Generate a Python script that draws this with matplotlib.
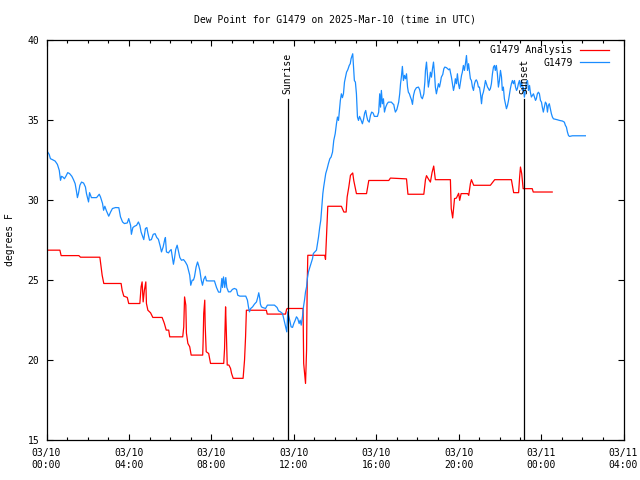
import numpy as np
import matplotlib
matplotlib.use("Agg")
import matplotlib.pyplot as plt

# hours since 03/10 00:00 UTC, dew point in F
obs_hours = [0.00, 0.06, 0.13, 0.19, 0.29, 0.42, 0.53, 0.62, 0.68, 0.73, 0.79, 0.87, 0.94, 1.03, 1.12,
             1.23, 1.31, 1.39, 1.46, 1.50, 1.55, 1.62, 1.70, 1.80, 1.89, 1.94, 2.04, 2.09, 2.18, 2.33,
             2.43, 2.56, 2.62, 2.72, 2.77, 2.83, 2.91, 3.02, 3.11, 3.20, 3.35, 3.51, 3.59, 3.69, 3.78,
             3.92, 3.99, 4.08, 4.12, 4.19, 4.27, 4.37, 4.46, 4.53, 4.59, 4.66, 4.72, 4.80, 4.87, 4.92,
             5.00, 5.09, 5.18, 5.27, 5.35, 5.43, 5.52, 5.58, 5.66, 5.73, 5.77, 5.82, 5.92, 5.98, 6.05,
             6.11, 6.16, 6.21, 6.27, 6.34, 6.40, 6.47, 6.55, 6.65, 6.74, 6.83, 6.89, 6.95, 7.00, 7.07,
             7.13, 7.18, 7.26, 7.33, 7.38, 7.44, 7.51, 7.57, 7.63, 7.71, 7.76, 7.86, 8.15, 8.25, 8.35,
             8.44, 8.51, 8.54, 8.59, 8.65, 8.70, 8.75, 8.83, 8.93, 9.02, 9.12, 9.22, 9.28, 9.38, 9.67,
             9.75, 9.80, 9.85, 9.91, 10.00, 10.09, 10.19, 10.25, 10.30, 10.35, 10.38, 10.43, 10.49, 10.63, 10.72,
             11.06, 11.19, 11.26, 11.35, 11.45, 11.51, 11.61, 11.66, 11.71, 11.76, 11.82, 11.87, 11.94, 12.00, 12.07,
             12.13, 12.19, 12.26, 12.31, 12.36, 12.42, 12.47, 12.52, 12.57, 12.62, 12.66, 12.71, 12.76, 12.81, 12.86,
             12.91, 12.95, 13.02, 13.10, 13.15, 13.20, 13.26, 13.31, 13.36, 13.41, 13.45, 13.50, 13.55, 13.62, 13.68,
             13.75, 13.81, 13.88, 13.94, 14.01, 14.07, 14.12, 14.17, 14.22, 14.26, 14.31, 14.36, 14.41, 14.46, 14.51,
             14.56, 14.62, 14.69, 14.74, 14.78, 14.83, 14.86, 14.90, 14.94, 14.99, 15.04, 15.09, 15.14, 15.19, 15.24,
             15.28, 15.33, 15.38, 15.44, 15.49, 15.54, 15.59, 15.66, 15.72, 15.78, 15.85, 15.91, 16.06, 16.12, 16.17,
             16.21, 16.25, 16.30, 16.35, 16.40, 16.46, 16.53, 16.59, 16.66, 16.74, 16.80, 16.85, 16.89, 16.93, 17.00,
             17.05, 17.09, 17.14, 17.18, 17.22, 17.27, 17.32, 17.37, 17.42, 17.47, 17.52, 17.56, 17.61, 17.66, 17.71,
             17.76, 17.81, 17.87, 17.95, 18.05, 18.11, 18.18, 18.24, 18.31, 18.36, 18.39, 18.44, 18.49, 18.53, 18.58,
             18.63, 18.68, 18.73, 18.78, 18.83, 18.87, 18.92, 18.97, 19.02, 19.07, 19.12, 19.16, 19.23, 19.28, 19.33,
             19.41, 19.47, 19.52, 19.57, 19.60, 19.65, 19.70, 19.75, 19.80, 19.84, 19.89, 19.94, 19.99, 20.04, 20.09,
             20.14, 20.18, 20.23, 20.28, 20.33, 20.38, 20.43, 20.48, 20.52, 20.57, 20.62, 20.67, 20.72, 20.77, 20.82,
             20.86, 20.91, 20.96, 21.01, 21.06, 21.11, 21.15, 21.20, 21.25, 21.30, 21.35, 21.40, 21.45, 21.49, 21.54,
             21.59, 21.64, 21.69, 21.74, 21.78, 21.83, 21.88, 21.93, 21.98, 22.03, 22.08, 22.12, 22.17, 22.22, 22.27,
             22.32, 22.37, 22.42, 22.47, 22.51, 22.56, 22.61, 22.66, 22.71, 22.76, 22.81, 22.85, 22.90, 22.95, 23.00,
             23.05, 23.10, 23.14, 23.19, 23.24, 23.29, 23.34, 23.39, 23.44, 23.48, 23.53, 23.58, 23.63, 23.68, 23.73,
             23.77, 23.82, 23.87, 23.92, 23.97, 24.02, 24.06, 24.11, 24.16, 24.21, 24.26, 24.31, 24.35, 24.40, 24.45,
             24.50, 24.55, 24.60, 24.79, 24.89, 25.04, 25.13, 25.18, 25.23, 25.28, 25.33, 25.38, 25.52, 26.15]
obs_dewpt = [33.08, 32.97, 32.83, 32.56, 32.50, 32.41, 32.20, 31.83, 31.21, 31.46, 31.42, 31.31, 31.46, 31.69, 31.63,
             31.46, 31.25, 31.00, 30.48, 30.13, 30.38, 30.90, 31.10, 31.04, 30.79, 30.38, 29.86, 30.44, 30.13, 30.13,
             30.13, 30.34, 30.17, 29.76, 29.34, 29.59, 29.30, 28.97, 29.23, 29.45, 29.51, 29.50, 28.93, 28.61, 28.51,
             28.55, 28.82, 28.40, 27.84, 28.26, 28.34, 28.40, 28.61, 28.40, 27.98, 27.72, 27.51, 28.20, 28.26, 27.92,
             27.47, 27.51, 27.84, 27.88, 27.64, 27.53, 27.09, 26.74, 27.05, 27.47, 27.64, 26.74, 26.68, 26.80, 26.89,
             26.39, 25.97, 26.33, 26.89, 27.16, 26.80, 26.39, 26.22, 26.26, 26.11, 25.90, 25.60, 25.29, 24.66, 24.98,
             24.98, 25.18, 25.80, 26.11, 25.90, 25.60, 24.98, 24.66, 25.02, 25.22, 24.94, 24.93, 24.93, 24.52, 24.23,
             24.23, 25.08, 24.52, 25.18, 24.52, 25.14, 24.52, 24.25, 24.25, 24.40, 24.46, 24.40, 24.04, 23.98, 23.98,
             23.73, 23.31, 23.00, 23.21, 23.31, 23.48, 23.62, 23.90, 24.19, 23.84, 23.48, 23.31, 23.27, 23.21, 23.42,
             23.42, 23.27, 23.06, 23.00, 22.90, 22.59, 22.03, 21.75, 23.00, 22.69, 22.38, 22.06, 22.03, 22.27, 22.48,
             22.69, 22.59, 22.27, 22.48, 22.17, 22.69, 23.31, 23.73, 24.25, 24.56, 25.08, 25.49, 25.70, 25.90, 26.11,
             26.33, 26.64, 26.74, 26.85, 27.26, 27.67, 28.30, 28.72, 29.55, 30.38, 30.79, 31.21, 31.63, 31.94, 32.25,
             32.56, 32.66, 32.97, 33.70, 34.12, 34.74, 35.16, 34.95, 35.68, 36.20, 36.61, 36.37, 36.61, 37.34, 37.65,
             37.96, 38.11, 38.38, 38.49, 38.80, 39.00, 39.11, 38.28, 37.44, 37.34, 36.61, 35.16, 34.95, 35.20, 35.05,
             34.91, 34.74, 34.99, 35.41, 35.57, 35.20, 34.95, 34.84, 35.26, 35.47, 35.41, 35.20, 35.20, 35.47, 36.61,
             35.78, 36.82, 35.99, 36.30, 35.47, 35.78, 35.99, 36.09, 36.09, 36.09, 35.99, 35.95, 35.68, 35.47, 35.62,
             35.88, 36.09, 36.61, 37.24, 37.65, 38.32, 37.44, 37.76, 37.55, 37.86, 37.03, 36.71, 36.61, 36.41, 36.24,
             35.95, 36.51, 36.82, 36.99, 37.03, 36.86, 36.41, 36.30, 36.61, 37.34, 38.07, 38.59, 37.76, 37.03, 37.44,
             37.96, 37.65, 38.17, 38.59, 37.86, 37.03, 36.61, 36.93, 37.24, 37.03, 37.34, 37.65, 37.82, 38.17, 38.28,
             38.24, 38.17, 38.11, 38.17, 37.96, 37.65, 37.24, 36.82, 37.13, 37.55, 37.24, 37.86, 37.24, 36.93, 37.34,
             37.76, 37.96, 38.38, 38.07, 38.49, 39.00, 38.07, 38.49, 38.07, 37.55, 37.44, 37.03, 36.82, 37.24, 37.44,
             37.48, 37.34, 37.03, 37.03, 36.61, 35.99, 36.51, 36.71, 37.03, 37.44, 37.24, 37.03, 36.93, 36.82, 36.93,
             37.24, 37.86, 38.28, 38.38, 38.07, 38.38, 37.86, 37.03, 37.44, 38.07, 37.65, 36.82, 37.03, 36.30, 35.99,
             35.68, 35.88, 36.20, 36.61, 36.93, 37.24, 37.44, 37.24, 37.44, 37.03, 36.82, 36.93, 37.24, 37.44, 37.03,
             37.44, 36.82, 37.03, 36.40, 36.82, 37.34, 37.44, 36.82, 37.13, 36.71, 36.41, 36.51, 36.61, 36.41, 36.20,
             36.30, 36.61, 36.71, 36.61, 36.20, 36.09, 35.78, 35.47, 35.78, 36.09, 35.99, 35.47, 35.88, 35.99, 35.68,
             35.37, 35.16, 35.05, 34.99, 34.95, 34.91, 34.84, 34.64, 34.53, 34.22, 34.01, 33.95, 33.99, 33.99]

ana_hours = [0.00, 0.65, 0.71, 1.57, 1.65, 2.59, 2.65, 2.70, 2.78, 3.62, 3.67, 3.75, 3.92, 3.99, 4.53,
             4.59, 4.64, 4.69, 4.75, 4.82, 4.85, 4.92, 5.05, 5.16, 5.61, 5.69, 5.72, 5.81, 5.93, 5.98,
             6.61, 6.66, 6.70, 6.76, 6.79, 6.86, 6.95, 7.02, 7.58, 7.60, 7.63, 7.68, 7.70, 7.75, 7.87,
             7.96, 8.60, 8.64, 8.69, 8.72, 8.77, 8.85, 8.93, 8.98, 9.06, 9.54, 9.61, 9.66, 9.70, 10.67,
             10.71, 11.60, 11.65, 11.68, 12.45, 12.48, 12.57, 12.62, 12.65, 12.68, 13.50, 13.54, 13.65, 14.31, 14.43,
             14.54, 14.59, 14.67, 14.75, 14.86, 14.91, 15.04, 15.53, 15.64, 16.61, 16.69, 17.47, 17.54, 18.31, 18.39,
             18.44, 18.53, 18.63, 18.71, 18.79, 18.87, 19.60, 19.64, 19.71, 19.80, 19.89, 20.00, 20.05, 20.12, 20.44,
             20.49, 20.57, 20.62, 20.73, 21.54, 21.75, 22.56, 22.67, 22.91, 22.96, 23.00, 23.06, 23.13, 23.57, 23.62,
             24.54]
ana_dewpt = [26.85, 26.85, 26.51, 26.51, 26.41, 26.41, 25.80, 25.29, 24.77, 24.77, 24.35, 23.98, 23.90, 23.52, 23.52,
             24.56, 24.87, 23.62, 24.35, 24.87, 23.52, 23.10, 22.94, 22.65, 22.65, 22.38, 22.27, 21.86, 21.86, 21.44,
             21.44, 22.06, 23.93, 23.42, 21.67, 21.03, 20.82, 20.30, 20.30, 21.13, 22.90, 23.73, 22.17, 20.51, 20.40,
             19.78, 19.78, 20.71, 23.31, 22.06, 19.68, 19.68, 19.47, 19.16, 18.85, 18.85, 19.99, 21.44, 23.10, 23.10,
             22.86, 22.86, 23.15, 23.21, 23.21, 19.78, 18.53, 20.60, 24.56, 26.53, 26.53, 26.28, 29.59, 29.59, 29.23,
             29.23, 30.17, 30.79, 31.52, 31.67, 31.20, 30.38, 30.38, 31.20, 31.20, 31.35, 31.30, 30.34, 30.34, 31.25,
             31.50, 31.30, 31.10, 31.70, 32.10, 31.25, 31.25, 29.45, 28.86, 30.07, 30.10, 30.40, 29.96, 30.38, 30.38,
             30.27, 31.00, 31.25, 30.90, 30.90, 31.25, 31.25, 30.44, 30.44, 31.42, 32.04, 31.63, 30.69, 30.69, 30.48,
             30.48]

sunrise = 11.70
sunset = 23.19
tick_hours = [0, 4, 8, 12, 16, 20, 24, 28]
tick_labels = ["03/10\n00:00", "03/10\n04:00", "03/10\n08:00", "03/10\n12:00",
               "03/10\n16:00", "03/10\n20:00", "03/11\n00:00", "03/11\n04:00"]

plt.rcParams['font.family'] = 'DejaVu Sans Mono'
plt.rcParams['font.size'] = 7

fig = plt.figure(figsize=(6.4, 4.8), dpi=100)
ax = fig.add_axes([46.5 / 640, 1 - 440 / 480, 577 / 640, 400.5 / 480])

ax.plot(ana_hours, ana_dewpt, color="#ff0000", lw=0.9, label="G1479 Analysis")
ax.plot(obs_hours, obs_dewpt, color="#1a8cff", lw=0.9, label="G1479")

for t, name in [(sunrise, "Sunrise"), (sunset, "Sunset")]:
    ax.plot([t, t], [15, 36.3], color="k", lw=0.9)
    ax.text(t, 36.6, name, rotation=90, ha="center", va="bottom", fontsize=7)

ax.set_xlim(0, 28)
ax.set_ylim(15, 40)
ax.set_xticks(tick_hours)
ax.set_xticklabels(tick_labels)
ax.set_xticks(np.arange(0, 29, 1), minor=True)
ax.set_yticks([15, 20, 25, 30, 35, 40])
ax.tick_params(which="both", direction="in", top=True, right=True, width=0.8)
ax.tick_params(which="major", length=4.5)
ax.tick_params(which="minor", length=2.2)
ax.tick_params(axis="x", pad=6)
ax.tick_params(axis="y", pad=5)
for s in ax.spines.values():
    s.set_linewidth(0.9)

ax.set_ylabel("degrees F", labelpad=9)
ax.set_title("Dew Point for G1479 on 2025-Mar-10 (time in UTC)", pad=12, fontsize=7)
ax.legend(loc="upper right", bbox_to_anchor=(1 - 9 / 577, 1.0), frameon=False, markerfirst=False,
          handlelength=2.9, borderaxespad=0.2, labelspacing=0.25, handletextpad=0.8, fontsize=7)

fig.savefig("out.png", dpi=100)
